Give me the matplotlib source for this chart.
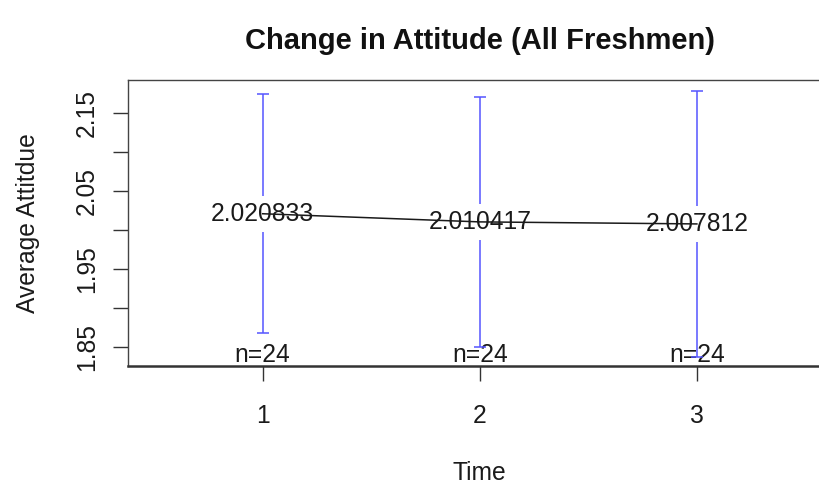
import matplotlib
matplotlib.use("Agg")
import matplotlib.pyplot as plt

plt.rcParams['font.family'] = ['Liberation Sans', 'DejaVu Sans']

times = [1, 2, 3]
means = [2.020833, 2.010417, 2.007812]
mean_labels = ["2.020833", "2.010417", "2.007812"]
ci_upper = [2.1739, 2.1705, 2.1781]
ci_lower = [1.8679, 1.8508, 1.8380]
n_labels = ["n=24", "n=24", "n=24"]
x_ticks = [1, 2, 3]
y_ticks = [1.85, 1.90, 1.95, 2.00, 2.05, 2.10, 2.15]
y_tick_labels = ["1.85", "", "1.95", "", "2.05", "", "2.15"]

fig = plt.figure(figsize=(8.19, 4.86), dpi=100)
ax = fig.add_axes([128/819, 1 - 366/486, (831.5 - 128)/819, (366 - 80)/486])
ax.set_xlim(0.38, 3.62)
ax.set_ylim(1.8262, 2.1918)

fs = 17.7
gap = 0.023
cap = 0.028
blue = '#5555ff'

for x, m, lo, hi in zip(times, means, ci_lower, ci_upper):
    ax.vlines(x, m + gap, hi, color=blue, lw=1.1, zorder=3)
    ax.vlines(x, lo, m - gap, color=blue, lw=1.1, zorder=3)
    ax.hlines([lo, hi], x - cap, x + cap, color=blue, lw=1.1, zorder=3)

ax.plot(times, means, color='#1a1a1a', lw=1.1, zorder=2)
for x, m, lab in zip(times, means, mean_labels):
    ax.text(x, m, lab, ha='center', va='center', fontsize=fs, color='#1a1a1a', zorder=2)

for x, lab in zip(times, n_labels):
    ax.text(x, 1.8310, lab, ha='center', va='baseline', fontsize=fs, color='#1a1a1a', zorder=2)

ax.set_xticks(x_ticks)
ax.set_xticklabels([str(t) for t in x_ticks])
ax.set_yticks(y_ticks)
ax.set_yticklabels(y_tick_labels, rotation=90, va='center')
ax.tick_params(axis='both', length=11, width=1, color='#333333', labelsize=fs, labelcolor='#1a1a1a')
ax.tick_params(axis='x', pad=16)
ax.tick_params(axis='y', pad=10)

for s in ['top', 'left', 'right']:
    ax.spines[s].set_color('#444444')
    ax.spines[s].set_linewidth(1.0)
ax.spines['bottom'].set_color('#333333')
ax.spines['bottom'].set_linewidth(1.8)

fig.text(479.75/819, 1 - 41/486, "Change in Attitude (All Freshmen)", ha='center', va='center',
         fontsize=21, fontweight='bold', color='#111111')
fig.text(479.75/819, 1 - 473/486, "Time", ha='center', va='center', fontsize=fs, color='#1a1a1a')
fig.text(28/819, 1 - 223/486, "Average Attitdue", ha='center', va='center', rotation=90,
         fontsize=fs, color='#1a1a1a')

fig.savefig("out.png", dpi=100)
